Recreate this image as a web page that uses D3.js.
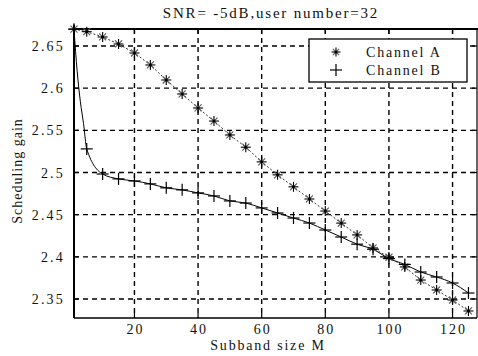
<!DOCTYPE html>
<html><head><meta charset="utf-8">
<script src="https://cdn.jsdelivr.net/npm/d3@7"></script>
<style>body{margin:0;background:#fff}svg{display:block}</style>
</head><body>
<script>
const titleText = "SNR= -5dB,user number=32";
const xLabel = "Subband size M";
const yLabel = "Scheduling gain";
const seriesNames = ["Channel A", "Channel B"];
const xTicks = [20, 40, 60, 80, 100, 120];
const yTicks = [2.35, 2.4, 2.45, 2.5, 2.55, 2.6, 2.65];
const yTickLabels = ["2.35", "2.4", "2.45", "2.5", "2.55", "2.6", "2.65"];

const mA = [1,5,10,15,20,25,30,35,40,45,50,55,60,65,70,75,80,85,90,95,100,105,110,115,120,125];
const valA = [2.670,2.667,2.6607,2.6524,2.6417,2.6275,2.6097,2.5931,2.5765,2.561,2.5445,2.530,2.5126,2.4972,2.483,2.4686,2.4543,2.440,2.426,2.4105,2.3995,2.388,2.3725,2.3607,2.3488,2.3358];
const mB = [1,2,3,4,5,10,15,20,25,30,35,40,45,50,55,60,65,70,75,80,85,90,95,100,105,110,115,120,125];
const valB = [2.670,2.620,2.584,2.558,2.528,2.4982,2.4924,2.490,2.4865,2.4818,2.4794,2.4758,2.4722,2.4663,2.4638,2.458,2.452,2.446,2.4401,2.4318,2.4235,2.415,2.409,2.398,2.391,2.382,2.3761,2.369,2.3571];
const markerB = [1,5,10,15,20,25,30,35,40,45,50,55,60,65,70,75,80,85,90,95,100,105,110,115,120,125];

const FONT = "Liberation Serif";
const W = 478, H = 356;
const L = 74, R = 477, T = 29, B = 318;
const svg = d3.select("body").append("svg").attr("width", W).attr("height", H);
const x = d3.scaleLinear().domain([1, 128]).range([L, 478]);
const y = d3.scaleLinear().domain([2.35, 2.65]).range([299, 46]);

function txt(sel) { return sel.append("text").attr("font-family", FONT).attr("fill", "#111"); }

// grid
const g = svg.append("g");
g.selectAll(".gx").data(xTicks).join("line")
  .attr("x1", d => x(d)).attr("x2", d => x(d)).attr("y1", T).attr("y2", B)
  .attr("stroke", "#000").attr("stroke-width", 1.4).attr("stroke-dasharray", "5,4");
g.selectAll(".gy").data(yTicks).join("line")
  .attr("y1", d => y(d)).attr("y2", d => y(d)).attr("x1", L).attr("x2", R)
  .attr("stroke", "#000").attr("stroke-width", 1.4).attr("stroke-dasharray", "5,4");

// axes frame
svg.append("line").attr("x1", L).attr("x2", L).attr("y1", T - 4).attr("y2", B).attr("stroke", "#000").attr("stroke-width", 2);
svg.append("line").attr("x1", L).attr("x2", R).attr("y1", B).attr("y2", B).attr("stroke", "#000").attr("stroke-width", 1.5);
svg.append("line").attr("x1", L).attr("x2", W).attr("y1", T).attr("y2", T).attr("stroke", "#000").attr("stroke-width", 2);
svg.append("line").attr("x1", R).attr("x2", R).attr("y1", T).attr("y2", B).attr("stroke", "#000").attr("stroke-width", 1.2);

// tick marks
const tk = svg.append("g").attr("stroke", "#000").attr("stroke-width", 1.2);
xTicks.forEach(t => {
  tk.append("line").attr("x1", x(t)).attr("x2", x(t)).attr("y1", B).attr("y2", B - 5);
  tk.append("line").attr("x1", x(t)).attr("x2", x(t)).attr("y1", T).attr("y2", T + 5);
});
yTicks.forEach(t => {
  tk.append("line").attr("x1", L).attr("x2", L + 5).attr("y1", y(t)).attr("y2", y(t));
  tk.append("line").attr("x1", R).attr("x2", R - 5).attr("y1", y(t)).attr("y2", y(t));
});

// tick labels
xTicks.forEach(t => txt(svg).attr("x", x(t) + 1).attr("y", 334).attr("text-anchor", "middle")
  .attr("font-size", 14).attr("letter-spacing", 2).text(t));
yTicks.forEach((t, i) => txt(svg).attr("x", 65).attr("y", y(t) + 5).attr("text-anchor", "end")
  .attr("font-size", 14).attr("letter-spacing", 2.2).text(yTickLabels[i]));

// labels
txt(svg).attr("x", 271).attr("y", 18).attr("text-anchor", "middle").attr("font-size", 15).attr("letter-spacing", 1.8).text(titleText);
txt(svg).attr("x", 268).attr("y", 350).attr("text-anchor", "middle").attr("font-size", 14).attr("letter-spacing", 1.8).text(xLabel);
txt(svg).attr("transform", "translate(22,171) rotate(-90)").attr("text-anchor", "middle").attr("font-size", 14).attr("letter-spacing", 1).text(yLabel);

// lines
const lineGen = d3.line().x(d => x(d[0])).y(d => y(d[1]));
const dataA = mA.map((m, i) => [m, valA[i]]);
const dataB = mB.map((m, i) => [m, valB[i]]);
svg.append("path").datum(dataA).attr("d", lineGen).attr("fill", "none").attr("stroke", "#333").attr("stroke-width", 1).attr("stroke-dasharray", "2,2");
svg.append("path").datum(dataB).attr("d", d3.line().curve(d3.curveMonotoneX).x(d => x(d[0])).y(d => y(d[1]))).attr("fill", "none").attr("stroke", "#000").attr("stroke-width", 1);

function star(sel, cx, cy, r) {
  const gg = sel.append("g").attr("stroke", "#000").attr("stroke-width", 1.1);
  gg.append("line").attr("x1", cx - r).attr("x2", cx + r).attr("y1", cy).attr("y2", cy);
  gg.append("line").attr("x1", cx).attr("x2", cx).attr("y1", cy - r).attr("y2", cy + r);
  const q = r * 0.7;
  gg.append("line").attr("x1", cx - q).attr("x2", cx + q).attr("y1", cy - q).attr("y2", cy + q).attr("stroke", "#555");
  gg.append("line").attr("x1", cx - q).attr("x2", cx + q).attr("y1", cy + q).attr("y2", cy - q).attr("stroke", "#555");
  gg.append("circle").attr("cx", cx).attr("cy", cy).attr("r", 1.6).attr("fill", "#000").attr("stroke", "none");
}
function plus(sel, cx, cy, r) {
  const gg = sel.append("g").attr("stroke", "#000").attr("stroke-width", 1.2);
  gg.append("line").attr("x1", cx - r).attr("x2", cx + r).attr("y1", cy).attr("y2", cy);
  gg.append("line").attr("x1", cx).attr("x2", cx).attr("y1", cy - r).attr("y2", cy + r);
}
const mk = svg.append("g");
dataA.forEach(d => star(mk, x(d[0]), y(d[1]), 5));
dataB.filter(d => markerB.includes(d[0])).forEach(d => plus(mk, x(d[0]), y(d[1]), 6));

// legend
const lg = svg.append("g");
lg.append("rect").attr("x", 309).attr("y", 39).attr("width", 158).attr("height", 43).attr("fill", "#fff").attr("stroke", "#000").attr("stroke-width", 1.3);
star(lg, 336, 52, 4.5);
plus(lg, 336, 70, 6);
txt(lg).attr("x", 366).attr("y", 57).attr("font-size", 14).attr("letter-spacing", 1.8).text(seriesNames[0]);
txt(lg).attr("x", 366).attr("y", 75).attr("font-size", 14).attr("letter-spacing", 1.8).text(seriesNames[1]);
</script>
</body></html>
